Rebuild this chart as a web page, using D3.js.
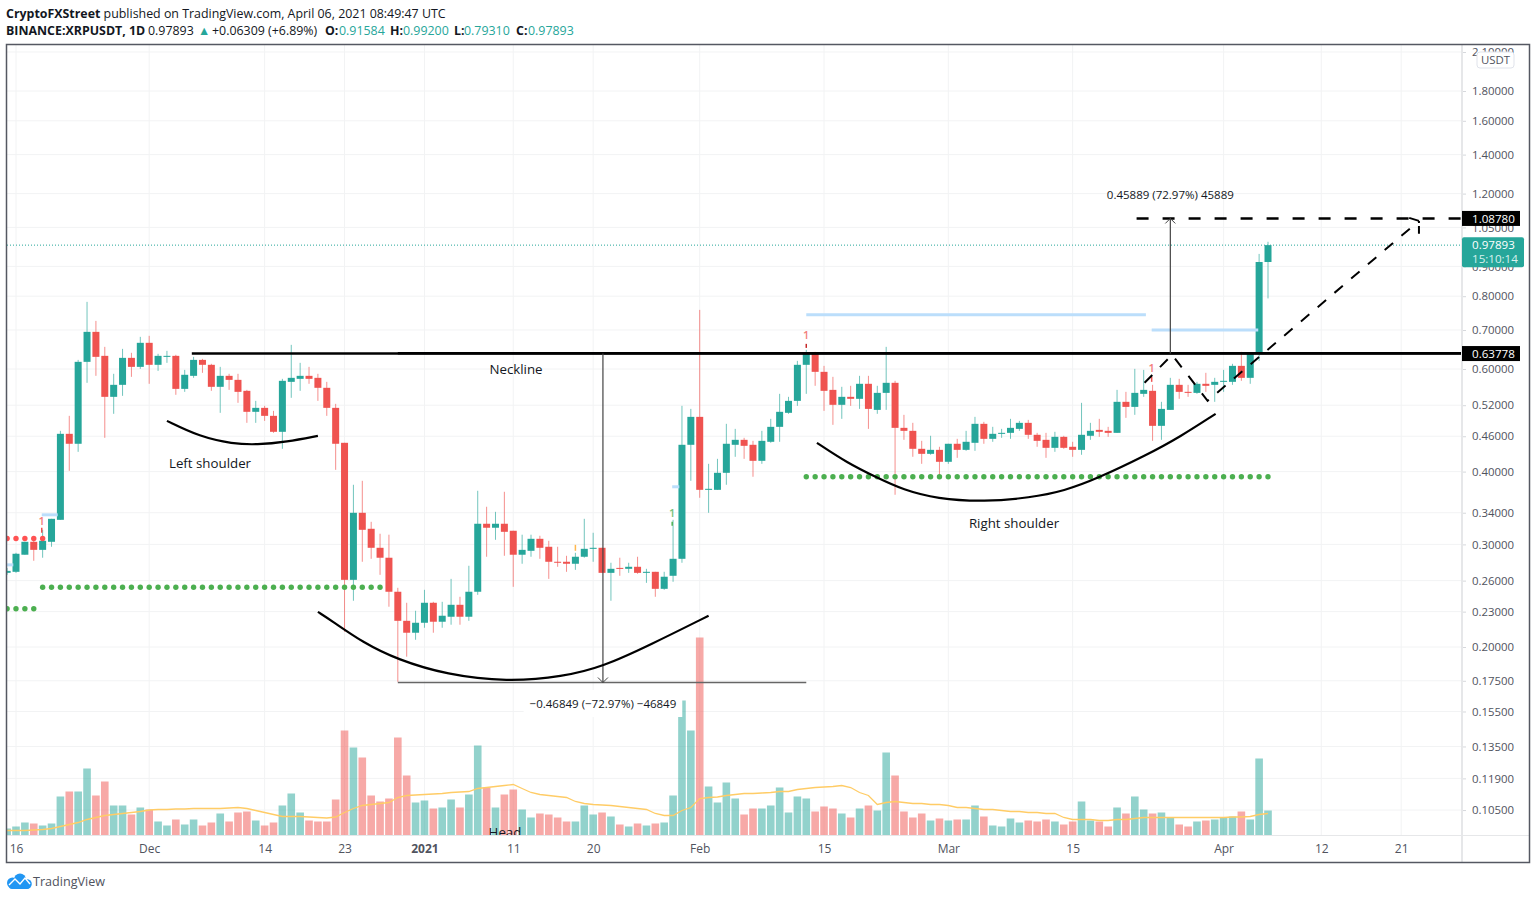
<!DOCTYPE html>
<html>
<head>
<meta charset="utf-8">
<script src="https://cdn.jsdelivr.net/npm/d3@7"></script>
<style>
html, body { margin: 0; padding: 0; background: #fff; }
svg { display: block; }
text { font-family: "Open Sans", sans-serif; }
</style>
</head>
<body>
<div id="chart"></div>
<script>
// daily candles, the first row starts on 15 Nov 2020
const opens = [.2681,
  .2692,.2880,.3031,.2936,.3031,.3306,.4644,.4465,.6172,.6949,
  .6320,.5375,.5636,.6270,.6051,.6654,.6100,.6295,.6320,.5547,
  .5840,.6220,.6100,.5592,.5840,.5748,.5504,.5066,.5146,.4986,
  .4681,.5703,.5771,.5840,.5794,.5570,.5146,.4482,.2608,.3399,
  .3191,.2960,.2846,.2488,.2218,.2116,.2201,.2382,.2210,.2254,
  .2363,.2254,.2488,.3255,.3204,.3255,.3166,.2880,.2925,.3067,
  .2972,.2801,.2801,.2779,.2857,.2948,.2960,.2681,.2734,.2724,
  .2746,.2681,.2692,.2517,.2650,.2834,.4447,.4966,.3722,.3722,
  .3981,.4447,.4535,.4447,.4174,.4500,.4774,.5046,.5290,.6100,
  .6396,.5933,.5525,.5208,.5375,.5333,.5659,.5105,.5460,.5681,
  .4755,.4699,.4377,.4291,.4359,.4158,.4465,.4359,.4482,.4831,
  .4553,.4644,.4662,.4736,.4850,.4626,.4535,.4394,.4589,.4412,
  .4359,.4608,.4717,.4699,.4662,.5270,.5166,.5439,.5504,.4793,
  .5105,.5636,.5482,.5460,.5659,.5636,.5703,.5703,.6075,.5794,
  .6371,.91584];
const highs = [.2734,
  .2902,.3031,.3043,.3178,.3319,.4699,.4986,.6220,.7823,.7256,
  .6549,.5887,.6497,.6396,.6813,.6840,.6371,.6446,.6346,.5979,
  .6295,.6245,.6124,.6051,.5887,.5887,.5525,.5290,.5187,.5085,
  .5771,.6601,.6148,.6051,.5887,.5703,.5228,.4482,.3797,.3857,
  .3280,.3129,.3117,.2527,.2382,.2308,.2507,.2391,.2391,.2618,
  .2439,.2757,.3708,.3481,.3412,.3693,.3166,.3117,.3117,.3104,
  .3043,.2972,.2868,.2902,.3319,.3141,.2960,.2790,.2846,.2790,
  .2857,.2724,.2692,.2692,.3306,.5187,.5125,.7579,.4125,.4207,
  .4831,.4736,.4571,.4517,.4699,.4927,.5439,.5375,.6196,.6471,
  .6421,.6075,.5817,.5592,.5614,.5840,.5840,.5614,.6549,.5726,
  .5006,.4850,.4517,.4608,.4412,.4465,.4553,.4699,.4966,.4869,
  .4774,.4736,.4927,.4888,.4907,.4662,.4662,.4681,.4608,.4500,
  .5249,.4850,.4927,.4774,.5525,.5482,.6003,.5979,.5636,.5270,
  .5794,.5771,.5636,.5703,.5910,.5794,.5979,.6124,.6421,.6396,
  .9455,.99200];
const lows = [.2660,
  .2681,.2880,.2812,.2846,.2972,.3306,.4012,.4325,.5681,.5840,
  .4571,.5026,.5396,.5817,.6003,.5659,.5956,.6148,.5418,.5482,
  .5794,.5910,.5504,.5046,.5525,.5249,.4850,.4850,.4888,.4662,
  .4377,.5354,.5504,.5659,.5290,.4986,.4028,.2124,.2401,.2801,
  .2834,.2660,.2345,.1743,.1925,.2058,.2158,.2116,.2158,.2184,
  .2184,.2218,.2458,.2857,.3055,.2868,.2537,.2779,.2857,.2834,
  .2618,.2746,.2692,.2713,.2846,.2801,.2681,.2401,.2650,.2681,
  .2671,.2577,.2439,.2507,.2588,.2790,.3857,.3607,.3399,.3722,
  .3797,.4241,.4207,.3919,.4125,.4482,.4500,.5026,.5187,.5439,
  .5614,.5085,.4812,.4927,.5187,.5125,.4736,.5026,.5105,.3650,
  .4535,.4241,.4125,.4275,.3919,.4125,.4224,.4342,.4342,.4465,
  .4500,.4571,.4553,.4699,.4553,.4412,.4224,.4325,.4377,.4241,
  .4275,.4535,.4589,.4589,.4662,.4947,.5006,.5375,.4517,.4535,
  .5105,.5333,.5375,.5439,.5482,.5270,.5482,.5636,.5726,.5659,
  .6196,.79310];
const closes = [.2702,
  .2891,.3031,.2936,.3043,.3319,.4644,.4465,.6172,.6949,.6295,
  .5375,.5636,.6270,.6051,.6654,.6100,.6320,.6320,.5547,.5864,
  .6220,.6100,.5592,.5840,.5748,.5482,.5066,.5146,.4986,.4681,
  .5726,.5794,.5840,.5771,.5570,.5146,.4465,.2608,.3399,.3178,
  .2960,.2846,.2488,.2218,.2116,.2201,.2382,.2210,.2263,.2363,
  .2254,.2488,.3255,.3204,.3255,.3153,.2880,.2936,.3067,.2960,
  .2801,.2790,.2779,.2857,.2948,.2960,.2681,.2724,.2724,.2746,
  .2681,.2692,.2517,.2640,.2834,.4447,.4966,.3722,.3737,.3981,
  .4465,.4535,.4429,.4174,.4517,.4774,.5066,.5290,.6100,.6396,
  .5933,.5504,.5208,.5375,.5333,.5659,.5125,.5460,.5681,.4755,
  .4699,.4377,.4291,.4359,.4158,.4465,.4359,.4500,.4831,.4553,
  .4644,.4662,.4755,.4850,.4626,.4517,.4394,.4589,.4394,.4359,
  .4626,.4699,.4681,.4662,.5270,.5166,.5460,.5525,.4793,.5125,
  .5636,.5482,.5460,.5659,.5614,.5703,.5726,.6075,.5794,.6371,
  .9158,.97893];
const volumes = [7,
  9,13,12,10,12,39,44,44,67,40,
  54,30,30,21,28,26,14,10,16,11,
  16,10,13,22,14,23,24,15,10,13,
  30,42,23,15,14,14,36,105,88,78,
  40,34,37,98,60,33,35,27,28,36,
  28,41,90,48,28,41,46,26,18,22,
  21,18,14,14,30,21,23,19,11,9,
  12,10,12,13,40,135,105,198,49,33,
  53,37,21,27,27,30,48,23,39,37,
  24,29,27,22,18,27,30,25,83,60,
  24,18,22,15,17,15,16,16,30,19,
  10,9,17,13,15,14,16,14,11,14,
  34,15,14,9,28,22,39,26,22,23,
  18,11,9,14,15,16,18,19,24,16,
  77,25];
const volumeMa = [5,
  5,5,5.5,6,7,9,11,13,16,18,
  20,21,22,23,24,25.5,26,26,26.5,26.5,
  27,27,27,27,27.5,28,27,25,23,21,
  19,19,19,18.5,18,17.5,18.5,23,27,30,
  31,32,33,38,40,40.5,41,41.5,42,43,
  43.5,44,47,48,49,50,51,47,43,41,
  40,39,38,34,32,31,30.5,30,29,28,
  27,26,22,20,20,25,28,37,38,38.5,
  40,41,42,42,42.5,43,44,44,46,47,
  48,48.5,49,50,48,43,40,31,33,34,
  33,32,32,31,31,30,28,28,27,26,
  26,25,24,24,23,23,22,22,18,16,
  16,16,15,15,16,16,17,18,18,18,
  18,18,18,18,18,18,18,18.5,18.5,19,
  21,22];

const priceTicks = [2.1,1.8,1.6,1.4,1.2,1.05,0.9,0.8,0.7,0.6,0.52,0.46,0.4,0.34,0.3,0.26,0.23,0.2,0.175,0.155,0.135,0.119,0.105];
const timeTicks = [['2020-11-16','16'],['2020-12-01','Dec'],['2020-12-14','14'],['2020-12-23','23'],['2021-01-01','2021'],['2021-01-11','11'],['2021-01-20','20'],['2021-02-01','Feb'],['2021-02-15','15'],['2021-03-01','Mar'],['2021-03-15','15'],['2021-04-01','Apr'],['2021-04-12','12'],['2021-04-21','21']];

// drawings, as [days after 16 Nov, price]
const neckline = 0.63778;
const target = 1.0878;
const lastClose = 0.97893;
const measureLow = 0.1738;
const leftShoulder = [[17,.4888],[20.7,.4589],[24.4,.4465],[27.1,.4447],[30.5,.45],[34,.4608]];
const headArc = [[34,.2298],[35.4,.2227],[39.1,.2034],[43,.1902],[48.5,.1792],[55.3,.1743],[61.6,.1778],[66.1,.185],[71.4,.2016],[78,.2263]];
const rightShoulder = [[90.2,.4482],[93.6,.4141],[97,.3903],[99.9,.3722],[103.7,.3592],[109.1,.355],[114.2,.3607],[118.1,.3708],[121.7,.3887],[127.4,.4275],[131.1,.4589],[135.1,.5026]];
const forecast = [[127.1,.5681],[130.2,.6346],[134.2,.529],[158,1.0773]];
const forecastHeadA = [[156.9,1.0901],[158,1.0773]];
const forecastHeadB = [[158,1.0773],[158,1.0236]];
const pivotLines = [[-1,-.3,.2767],[2.9,4.7,.3372],[73.9,74.7,.3767],[89,127.25,.7432],[127.9,139.9,.7003]];
const greenStops = [[-1,2,.2326],[3,41,.2533],[89,141,.3919]];
const redStops = [[-1,3,.3071]];
const signalMarks = [[2.9,.3242,'#ef5350'],[73.9,.3345,'#4caf50'],[89,.6759,'#ef5350'],[127.9,.5933,'#ef5350']];
const signalTicks = [[2.9,.3204,.3141,'#ef5350'],[73.9,.3280,.3230,'#4caf50'],[89,.6627,.6522,'#c62828'],[127.9,.5817,.5703,'#ef5350'],[63,.2995,.2925,'#ffb74d']];

const headerValues = [['O:',325,'0.91584',339],['H:',390,'0.99200',403],['L:',454,'0.79310',464],['C:',516,'0.97893',528]];

const width = 1536, height = 900;
const plotLeft = 7, plotRight = 1462, plotTop = 44, plotBottom = 835.5;
const teal = '#26a69a', red = '#ef5350', ink = '#131722', axisInk = '#50535e';

const svg = d3.select('#chart').append('svg').attr('width', width).attr('height', height);

const base = Date.UTC(2020, 10, 16);
const dayDate = d => new Date(base + d * 864e5);
const x = d3.scaleUtc().domain([dayDate(0), dayDate(141)]).range([16, 1268]);
const xd = d => x(dayDate(d));
const y = d3.scaleLog().domain([0.2, 1.8]).range([647, 91]);
const yVol = d3.scaleLinear().domain([0, 198]).range([plotBottom, 637.5]);

svg.append('clipPath').attr('id', 'plot').append('rect')
  .attr('x', plotLeft).attr('y', plotTop).attr('width', plotRight - plotLeft).attr('height', plotBottom - plotTop);

// header
const head1 = svg.append('text').attr('x', 6).attr('y', 18).attr('font-size', 12.4).attr('fill', ink);
head1.append('tspan').attr('font-weight', 700).text('CryptoFXStreet');
head1.append('tspan').text(' published on TradingView.com, April 06, 2021 08:49:47 UTC');
const head2 = svg.append('text').attr('x', 6).attr('y', 35).attr('font-size', 12.4).attr('fill', ink);
head2.append('tspan').attr('font-weight', 700).text('BINANCE:XRPUSDT, 1D');
head2.append('tspan').attr('x', 148).text('0.97893');
head2.append('tspan').attr('x', 198).attr('fill', teal).text('▲');
head2.append('tspan').attr('x', 212).text('+0.06309 (+6.89%)');
headerValues.forEach(([k, kx, v, vx]) => {
  head2.append('tspan').attr('x', kx).attr('font-weight', 700).text(k);
  head2.append('tspan').attr('x', vx).attr('fill', teal).text(v);
});

// grid
const grid = svg.append('g').attr('stroke', '#f2f3f4').attr('stroke-width', 1);
grid.selectAll('.gy').data(priceTicks).enter().append('line')
  .attr('x1', plotLeft).attr('x2', plotRight).attr('y1', d => y(d)).attr('y2', d => y(d));
grid.selectAll('.gx').data(timeTicks).enter().append('line')
  .attr('x1', d => x(new Date(d[0]))).attr('x2', d => x(new Date(d[0])))
  .attr('y1', plotTop).attr('y2', plotBottom);

const plot = svg.append('g').attr('clip-path', 'url(#plot)');

// volume
const days = opens.map((o, i) => i - 1);
const isUp = i => closes[i] >= opens[i];
plot.selectAll('.vol').data(volumes).enter().append('rect')
  .attr('x', (d, i) => xd(days[i]) - 3.8).attr('width', 7.6)
  .attr('y', d => yVol(d)).attr('height', d => plotBottom - yVol(d))
  .attr('fill', (d, i) => isUp(i) ? teal : red).attr('opacity', 0.5);
plot.append('path').datum(volumeMa)
  .attr('fill', 'none').attr('stroke', '#ffcc66').attr('stroke-width', 1.3)
  .attr('d', d3.line().x((d, i) => xd(days[i])).y(d => yVol(d)));

// last price line
plot.append('line').attr('x1', plotLeft).attr('x2', plotRight).attr('y1', y(lastClose)).attr('y2', y(lastClose))
  .attr('stroke', teal).attr('stroke-dasharray', '1 2');

// candles
plot.selectAll('.wick').data(highs).enter().append('line')
  .attr('x1', (d, i) => xd(days[i])).attr('x2', (d, i) => xd(days[i]))
  .attr('y1', d => y(d)).attr('y2', (d, i) => y(lows[i]))
  .attr('stroke', (d, i) => isUp(i) ? teal : red).attr('stroke-opacity', 0.65).attr('stroke-width', 1);
plot.selectAll('.body').data(opens).enter().append('rect')
  .attr('x', (d, i) => xd(days[i]) - 3.5).attr('width', 7)
  .attr('y', (d, i) => y(Math.max(d, closes[i])))
  .attr('height', (d, i) => Math.max(1, Math.abs(y(d) - y(closes[i]))))
  .attr('fill', (d, i) => isUp(i) ? teal : red);

// stops
const dots = (rows, colour) => rows.forEach(([from, to, price]) => {
  plot.append('g').selectAll('circle').data(d3.range(from, to + 1)).enter().append('circle')
    .attr('cx', d => xd(d)).attr('cy', y(price)).attr('r', 2.7).attr('fill', colour);
});
dots(greenStops, '#4caf50');
dots(redStops, '#ff5252');

plot.selectAll('.pivot').data(pivotLines).enter().append('line')
  .attr('x1', d => xd(d[0])).attr('x2', d => xd(d[1])).attr('y1', d => y(d[2])).attr('y2', d => y(d[2]))
  .attr('stroke', '#bbdefb').attr('stroke-width', 3);

plot.selectAll('.signal').data(signalMarks).enter().append('text')
  .attr('x', d => xd(d[0])).attr('y', d => y(d[1])).attr('text-anchor', 'middle')
  .attr('font-size', 11).attr('font-weight', 600).attr('fill', d => d[2]).attr('opacity', 0.75).text('1');
plot.selectAll('.signalTick').data(signalTicks).enter().append('line')
  .attr('x1', d => xd(d[0])).attr('x2', d => xd(d[0])).attr('y1', d => y(d[1])).attr('y2', d => y(d[2]))
  .attr('stroke', d => d[3]).attr('stroke-width', 1.5);

// neckline and measures
const hline = (from, to, price, stroke, w, dash) => plot.append('line')
  .attr('x1', from).attr('x2', to).attr('y1', y(price)).attr('y2', y(price))
  .attr('stroke', stroke).attr('stroke-width', w).attr('stroke-dasharray', dash || null);
hline(xd(19.8), plotRight, neckline, '#000', 2.4);
hline(xd(43), plotRight, neckline * 1.001, '#000', 2.6);
hline(xd(126.2), plotRight, target, '#000', 2.4, '12 14');
hline(xd(43), xd(89), measureLow, '#666', 1.4);

const vline = (d, from, to) => plot.append('line')
  .attr('x1', xd(d)).attr('x2', xd(d)).attr('y1', y(from)).attr('y2', y(to))
  .attr('stroke', '#444').attr('stroke-width', 1.2);
vline(66.1, neckline, measureLow);
vline(130, neckline, target);
const arrow = (d, price, dir) => plot.append('path')
  .attr('d', d3.line()([[xd(d) - 5, y(price) + dir * 5], [xd(d), y(price)], [xd(d) + 5, y(price) + dir * 5]]))
  .attr('fill', 'none').attr('stroke', '#444').attr('stroke-width', 1);
arrow(66.1, measureLow, -1);
arrow(130, target, 1);

// arcs and forecast
const pts = d3.line().x(d => xd(d[0])).y(d => y(d[1]));
const smooth = d3.line().x(d => xd(d[0])).y(d => y(d[1])).curve(d3.curveBasis);
[leftShoulder, headArc, rightShoulder].forEach(arc => {
  plot.append('path').attr('d', smooth(arc)).attr('fill', 'none').attr('stroke', '#000').attr('stroke-width', 2.2);
});
plot.append('path').attr('d', pts(forecast)).attr('fill', 'none').attr('stroke', '#000')
  .attr('stroke-width', 2).attr('stroke-dasharray', '11 11');
plot.append('path').attr('d', pts(forecastHeadA)).attr('fill', 'none').attr('stroke', '#000').attr('stroke-width', 2);
plot.append('path').attr('d', pts(forecastHeadB)).attr('fill', 'none').attr('stroke', '#000')
  .attr('stroke-width', 2).attr('stroke-dasharray', '2 3 9 100');

// measure and pattern labels
const label = (text, cx, cy, size) => plot.append('text').attr('x', cx).attr('y', cy)
  .attr('text-anchor', 'middle').attr('font-size', size).attr('fill', ink).text(text);
const lowLabel = label('−0.46849 (−72.97%) −46849', xd(66.1), 708, 11.5);
const box = lowLabel.node().getBBox();
plot.insert('rect', () => lowLabel.node()).attr('x', box.x - 6).attr('y', box.y - 6)
  .attr('width', box.width + 12).attr('height', box.height + 12).attr('fill', '#fff');
label('0.45889 (72.97%) 45889', xd(130), 199, 11.5);
label('Neckline', 516, 374, 13.3);
label('Left shoulder', 210, 468, 13.3);
label('Right shoulder', 1014, 528, 13.3);
label('Head', 505, 837, 13.3);

// axes
const yAxis = d3.axisRight(y).tickValues(priceTicks).tickFormat(d => d.toFixed(5)).tickSize(4).tickPadding(6);
svg.append('g').attr('transform', `translate(${plotRight},0)`).call(yAxis)
  .call(g => g.select('.domain').remove())
  .call(g => g.selectAll('line').attr('stroke', '#d6d8dc'))
  .call(g => g.selectAll('text').attr('font-size', 11.4).attr('fill', axisInk).attr('font-family', 'Roboto, sans-serif'));
const xAxis = d3.axisBottom(x).tickValues(timeTicks.map(d => new Date(d[0])))
  .tickFormat((d, i) => timeTicks[i][1]).tickSize(0).tickPadding(9);
svg.append('g').attr('transform', `translate(0,${plotBottom})`).call(xAxis)
  .call(g => g.select('.domain').remove())
  .call(g => g.selectAll('text').attr('font-size', 12).attr('fill', axisInk).attr('font-family', 'Roboto, sans-serif')
    .attr('font-weight', d => d.getUTCFullYear() === 2021 && d.getUTCMonth() === 0 && d.getUTCDate() === 1 ? 700 : 400));

// separators and frame
svg.append('line').attr('x1', plotLeft).attr('x2', 1529).attr('y1', plotBottom).attr('y2', plotBottom).attr('stroke', '#e6e7e9');
svg.append('line').attr('x1', plotRight).attr('x2', plotRight).attr('y1', plotTop).attr('y2', 862).attr('stroke', '#e6e7e9').attr('stroke-width', 2);
svg.append('rect').attr('x', 6.5).attr('y', 44.5).attr('width', 1523).attr('height', 818)
  .attr('fill', 'none').attr('stroke', '#555862').attr('stroke-width', 1.5);

// price tags
const blackTag = (price, text) => {
  svg.append('rect').attr('x', plotRight).attr('y', y(price) - 7.5).attr('width', 58).attr('height', 15).attr('fill', '#000');
  svg.append('text').attr('x', 1472).attr('y', y(price) + 4.5).attr('font-size', 11.6).attr('font-weight', 500)
    .attr('font-family', 'Roboto, sans-serif').attr('fill', '#fff').text(text);
};
blackTag(target, '1.08780');
blackTag(neckline, '0.63778');
svg.append('rect').attr('x', plotRight).attr('y', y(lastClose) - 8).attr('width', 62).attr('height', 30).attr('rx', 2).attr('fill', teal);
svg.append('text').attr('x', 1472).attr('y', y(lastClose) + 4).attr('font-size', 11.6).attr('font-weight', 500)
  .attr('font-family', 'Roboto, sans-serif').attr('fill', '#fff').text('0.97893');
svg.append('text').attr('x', 1472).attr('y', y(lastClose) + 18).attr('font-size', 11.6)
  .attr('font-family', 'Roboto, sans-serif').attr('fill', '#d9f1ee').text('15:10:14');

// currency box
svg.append('rect').attr('x', 1477).attr('y', 52).attr('width', 37).attr('height', 16).attr('rx', 3)
  .attr('fill', '#fff').attr('stroke', '#e0e3eb');
svg.append('text').attr('x', 1495.5).attr('y', 64).attr('text-anchor', 'middle').attr('font-size', 11.4)
  .attr('font-family', 'Roboto, sans-serif').attr('fill', axisInk).text('USDT');

// footer logo
const logo = svg.append('g');
[[12.5, 883, 5.5], [20, 879.5, 6], [27, 884, 4.8]].forEach(c => {
  logo.append('circle').attr('cx', c[0]).attr('cy', c[1]).attr('r', c[2]).attr('fill', '#2196f3');
});
logo.append('rect').attr('x', 9).attr('y', 882).attr('width', 21).attr('height', 7).attr('rx', 3).attr('fill', '#2196f3');
logo.append('path').attr('d', 'M9 885L15 879L20 884L25 878L30 884').attr('fill', 'none').attr('stroke', '#fff').attr('stroke-width', 1.4);
svg.append('text').attr('x', 33).attr('y', 886).attr('font-size', 12.6).attr('fill', '#50535e').text('TradingView');
</script>
</body>
</html>
